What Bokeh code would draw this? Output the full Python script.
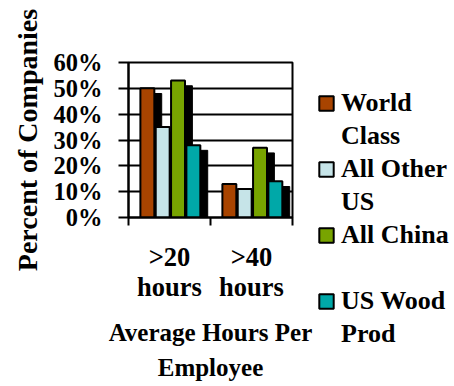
from bokeh.plotting import figure
from bokeh.models import (ColumnDataSource, FixedTicker, PrintfTickFormatter,
                          Legend, LegendItem, Range1d)
from bokeh.embed import file_html
from bokeh.resources import INLINE

categories = [">20 hours", ">40 hours"]
category_labels = [">20\nhours", ">40\nhours"]
series = ["World Class", "All Other US", "All China", "US Wood Prod"]
legend_lines = [["World", "Class"], ["All Other", "US"], ["All China", " "], ["US Wood", "Prod"]]
world_class = [50, 13]
all_other_us = [35, 11]
all_china = [53, 27]
us_wood = [28, 14]
colors = ["#A84400", "#C6E4E8", "#78A400", "#00A8A8"]
y_ticks = [0, 10, 20, 30, 40, 50, 60]

FONT = "Liberation Serif"

p = figure(frame_width=164, frame_height=155, output_backend="svg", toolbar_location=None,
           x_range=Range1d(0, len(categories)), y_range=Range1d(0, 60),
           min_border_left=128, min_border_right=162,
           min_border_top=62, min_border_bottom=169)
p.background_fill_color = "white"
p.border_fill_color = "white"
p.outline_line_color = "black"
p.outline_line_width = 2

all_values = [world_class, all_other_us, all_china, us_wood]
bar_w = 0.17
step = 0.187
first = -0.27
shadow_dx = 0.09
shadow_dy = 2.0

bar_renderers = []
for k, vals in enumerate(all_values):
    xs = [i + 0.5 + first + k * step for i in range(len(categories))]
    sh = ColumnDataSource(dict(x=[x + shadow_dx for x in xs],
                               top=[v - shadow_dy for v in vals]))
    p.vbar(x="x", top="top", bottom=0, width=bar_w, source=sh,
           fill_color="black", line_color="black", line_width=1)
    src = ColumnDataSource(dict(x=xs, top=vals))
    r = p.vbar(x="x", top="top", bottom=0, width=bar_w, source=src,
               fill_color=colors[k], line_color="black", line_width=2)
    bar_renderers.append(r)

blank = p.vbar(x="x", top="top", width=0.1,
               source=ColumnDataSource(dict(x=[], top=[])),
               fill_alpha=0, line_alpha=0)

# grid
p.xgrid.visible = False
p.ygrid.grid_line_color = "black"
p.ygrid.grid_line_width = 2
p.ygrid.level = "underlay"

# y axis
p.yaxis.ticker = FixedTicker(ticks=y_ticks)
p.yaxis.formatter = PrintfTickFormatter(format="%d%%")
p.yaxis.axis_line_color = "black"
p.yaxis.axis_line_width = 2
p.yaxis.major_tick_line_width = 2
p.yaxis.major_tick_out = 10
p.yaxis.major_tick_in = 0
p.yaxis.minor_tick_line_color = None
p.yaxis.major_label_standoff = 16
p.yaxis.major_label_text_font = FONT
p.yaxis.major_label_text_font_style = "bold"
p.yaxis.major_label_text_font_size = "24.5px"
p.yaxis.major_label_text_color = "black"
p.yaxis.axis_label = "Percent of Companies"
p.yaxis.axis_label_text_font = FONT
p.yaxis.axis_label_text_font_style = "bold"
p.yaxis.axis_label_text_font_size = "28px"
p.yaxis.axis_label_text_color = "black"
p.yaxis.axis_label_standoff = 8

# x axis
centers = [i + 0.5 for i in range(len(categories))]
bounds = [float(i) for i in range(len(categories) + 1)]
p.xaxis.ticker = FixedTicker(ticks=centers, minor_ticks=bounds)
p.xaxis.major_label_overrides = {c: lab for c, lab in zip(centers, category_labels)}
p.xaxis.major_tick_line_color = None
p.xaxis.minor_tick_line_color = "black"
p.xaxis.minor_tick_line_width = 2
p.xaxis.minor_tick_out = 8
p.xaxis.minor_tick_in = 0
p.xaxis.axis_line_color = "black"
p.xaxis.axis_line_width = 2
p.xaxis.major_label_standoff = 16
p.xaxis.major_label_text_font = FONT
p.xaxis.major_label_text_font_style = "bold"
p.xaxis.major_label_text_font_size = "26.5px"
p.xaxis.major_label_text_line_height = 1.02
p.xaxis.major_label_text_color = "black"
p.xaxis.axis_label = "Average Hours Per\nEmployee"
p.xaxis.axis_label_text_font = FONT
p.xaxis.axis_label_text_font_style = "bold"
p.xaxis.axis_label_text_font_size = "25px"
p.xaxis.axis_label_text_line_height = 1.3
p.xaxis.axis_label_text_color = "black"
p.xaxis.axis_label_standoff = 14

items = []
for k, (l1, l2) in enumerate(legend_lines):
    items.append(LegendItem(label=l1, renderers=[bar_renderers[k]]))
    items.append(LegendItem(label=l2, renderers=[blank]))

legend = Legend(items=items, location="top_left")
legend.glyph_width = 18
legend.glyph_height = 18
legend.label_height = 31
legend.label_standoff = 6
legend.spacing = 2
legend.padding = 0
legend.margin = 25
legend.border_line_alpha = 0
legend.background_fill_alpha = 0
legend.label_text_font = FONT
legend.label_text_font_style = "bold"
legend.label_text_font_size = "26px"
legend.label_text_color = "black"
p.add_layout(legend, "right")

open("out.html", "w").write(file_html(p, INLINE))
